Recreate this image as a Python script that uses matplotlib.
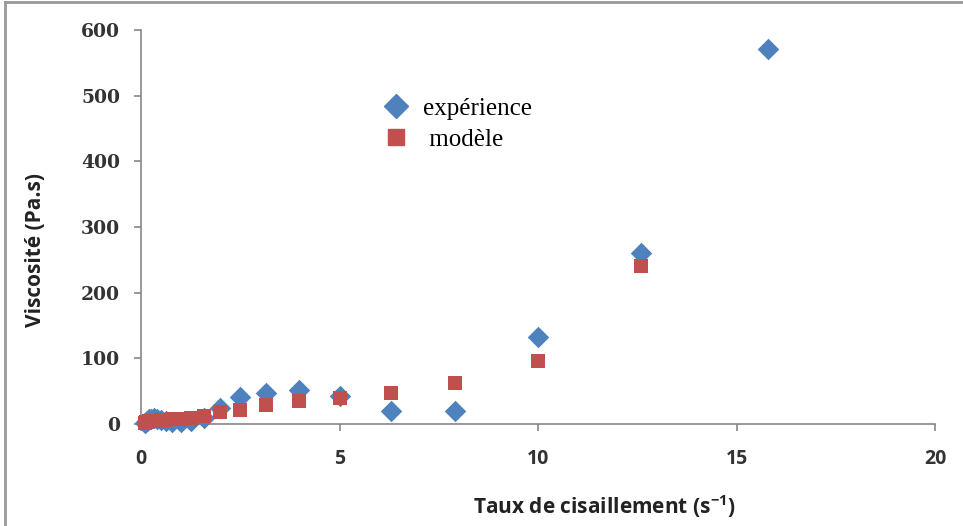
import matplotlib
matplotlib.use("Agg")
import matplotlib.pyplot as plt
from matplotlib.lines import Line2D

# Data
shear_exp = [0.10, 0.13, 0.16, 0.20, 0.25, 0.32, 0.40, 0.50, 0.63, 0.79, 1.00, 1.26, 1.58,
             2.0, 2.5, 3.16, 3.98, 5.0, 6.3, 7.9, 10.0, 12.6, 15.8]
visc_exp = [1, 3, 5, 7, 8, 9, 8, 6, 4, 3, 3, 4, 9,
            24, 41, 47, 52, 43, 20, 20, 132, 260, 571]
shear_mod = [0.10, 0.13, 0.16, 0.20, 0.25, 0.32, 0.40, 0.50, 0.63, 0.79, 1.00, 1.26, 1.58,
             2.0, 2.5, 3.16, 3.98, 5.0, 6.3, 7.9, 10.0, 12.6]
visc_mod = [2, 3, 3, 4, 4, 5, 5, 6, 6, 7, 8, 9, 12,
            18, 21, 29, 35, 40, 47, 62, 96, 240]
x_ticks = [0, 5, 10, 15, 20]
y_ticks = [0, 100, 200, 300, 400, 500, 600]

blue = "#4F81BD"
red = "#C0504D"
gray = "#868686"

fig = plt.figure(figsize=(9.63, 5.26), dpi=100)
ax = fig.add_axes([141/963, 1-424/526, (935-141)/963, (424-30)/526])

ax.scatter(shear_exp, visc_exp, marker="D", s=120, color=blue, linewidths=0, zorder=3, clip_on=False)
ax.scatter(shear_mod, visc_mod, marker="s", s=115, color=red, linewidths=0, zorder=4, clip_on=False)

ax.set_xlim(0, 20)
ax.set_ylim(0, 600)
ax.set_xticks(x_ticks)
ax.set_yticks(y_ticks)
for s in ["top", "right"]:
    ax.spines[s].set_visible(False)
for s in ["left", "bottom"]:
    ax.spines[s].set_color(gray)
    ax.spines[s].set_linewidth(1.2)
ax.tick_params(axis="both", colors=gray, length=5, width=1.2, direction="out")
ax.tick_params(axis="x", pad=13)
ax.tick_params(axis="y", pad=10)
for lab in ax.get_yticklabels():
    lab.set_fontfamily("DejaVu Serif")
    lab.set_fontweight("bold")
    lab.set_fontsize(13.5)
    lab.set_color("#333333")
for lab in ax.get_xticklabels():
    lab.set_fontfamily("Open Sans")
    lab.set_fontweight("bold")
    lab.set_fontsize(14)
    lab.set_color("#333333")

fig.text(36/963, 1-250/526, "Viscosité (Pa.s)", rotation=90, ha="center", va="center",
         fontsize=15, fontweight="bold", family="Open Sans", color="#222222")
fig.text(604/963, 1-507/526, r"Taux de cisaillement (s$^{\mathregular{-1}}$)", ha="center", va="center",
         fontsize=15, fontweight="bold", family="Open Sans", color="#222222")

# legend
handles = [Line2D([], [], marker="D", linestyle="none", color=blue, markersize=12),
           Line2D([], [], marker="s", linestyle="none", color=red, markersize=11)]
leg = ax.legend(handles, ["expérience", " modèle"], loc="upper left",
                bbox_to_anchor=((383.5-141)/794, 1-(97-30)/394), frameon=False,
                borderaxespad=0, borderpad=0,
                prop={"family": "Liberation Serif", "size": 18}, handletextpad=0.58,
                labelspacing=0.36, handlelength=1.0)

# outer frame (top and left)
fig.add_artist(Line2D([5/963, 1], [1-2/526, 1-2/526], transform=fig.transFigure, color="#999999", lw=2))
fig.add_artist(Line2D([5/963, 5/963], [0, 1-2/526], transform=fig.transFigure, color="#999999", lw=2))

fig.savefig("out.png", dpi=100)
